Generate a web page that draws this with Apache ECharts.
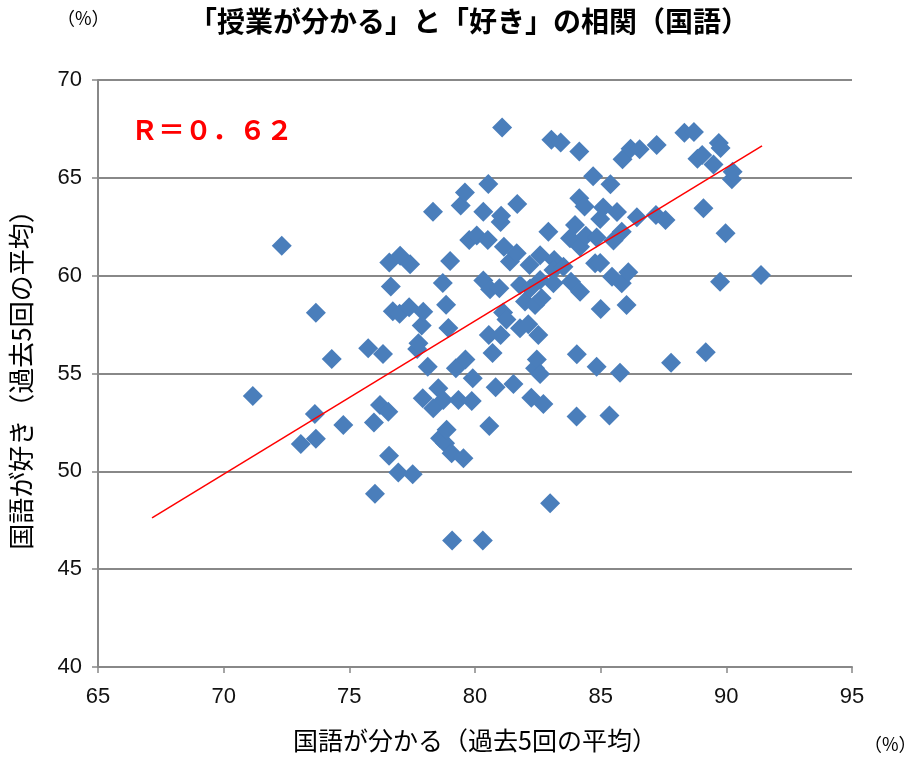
<!DOCTYPE html>
<html>
<head>
<meta charset="utf-8">
<script src="https://cdn.jsdelivr.net/npm/echarts@6/dist/echarts.min.js"></script>
<style>
  html, body { margin: 0; padding: 0; background: #fff; }
  #chart { width: 914px; height: 765px; }
</style>
</head>
<body>
<div id="chart"></div>
<script>
// 各校の「国語が分かる」割合（過去5回の平均, %）
const understandPct = [
  71.16, 72.31, 73.07, 73.63, 73.67, 73.67, 74.30, 74.76, 75.75, 75.98,
  76.02, 76.22, 76.34, 76.55, 76.58, 76.59, 76.65, 76.73, 76.95, 77.00,
  77.02, 77.38, 77.42, 77.52, 77.70, 77.75, 77.88, 77.92, 77.94, 78.12,
  78.33, 78.34, 78.54, 78.61, 78.72, 78.74, 78.81, 78.85, 78.87, 78.94,
  79.01, 79.07, 79.09, 79.24, 79.34, 79.43, 79.54, 79.60, 79.62, 79.77,
  79.87, 79.91, 80.07, 80.31, 80.33, 80.33, 80.51, 80.53, 80.55, 80.57,
  80.60, 80.70, 80.82, 80.97, 81.02, 81.02, 81.04, 81.08, 81.12, 81.15,
  81.25, 81.39, 81.53, 81.66, 81.68, 81.79, 81.79, 81.99, 82.12, 82.17,
  82.19, 82.24, 82.39, 82.39, 82.46, 82.52, 82.59, 82.59, 82.59, 82.65,
  82.72, 82.92, 83.15, 82.99, 83.04, 83.12, 83.12, 83.41, 83.52, 83.78,
  83.82, 83.98, 84.05, 84.04, 84.15, 84.15, 84.18, 84.18, 84.36, 84.41,
  84.70, 84.78, 84.84, 84.84, 84.98, 84.98, 85.00, 85.10, 85.35, 85.39,
  85.45, 85.51, 85.65, 85.77, 85.84, 85.84, 85.87, 86.03, 86.10, 86.19,
  86.44, 86.55, 87.20, 87.23, 87.58, 87.80, 88.33, 88.71, 88.85, 89.04,
  89.09, 89.18, 89.49, 89.70, 89.77, 89.75, 89.97, 90.22, 90.25, 91.38
];

// 各校の「国語が好き」割合（過去5回の平均, %）
const likePct = [
  53.85, 61.53, 51.40, 52.93, 51.66, 58.11, 55.74, 52.37, 56.29, 52.49,
  48.85, 53.39, 56.00, 53.05, 50.80, 60.67, 59.44, 58.18, 49.94, 58.05,
  61.02, 58.38, 60.58, 49.85, 56.25, 56.54, 57.45, 53.73, 58.16, 55.35,
  63.27, 53.22, 54.25, 51.69, 59.62, 53.65, 51.44, 58.52, 52.12, 57.33,
  60.75, 50.93, 46.46, 55.27, 53.65, 63.58, 50.67, 64.25, 55.71, 61.82,
  53.60, 54.76, 62.05, 46.46, 63.27, 59.75, 61.82, 64.69, 56.97, 52.32,
  59.30, 56.05, 54.30, 59.36, 56.97, 62.74, 63.06, 67.57, 58.12, 61.48,
  57.76, 60.72, 54.46, 61.14, 63.66, 59.52, 57.31, 58.68, 57.52, 60.55,
  59.35, 53.76, 58.50, 55.27, 55.72, 56.97, 61.04, 59.78, 54.97, 58.85,
  53.44, 62.25, 60.80, 48.37, 66.95, 60.29, 59.61, 66.80, 60.46, 61.91,
  59.69, 62.59, 55.98, 52.80, 66.35, 63.96, 61.48, 59.18, 63.53, 62.04,
  65.08, 60.63, 61.95, 55.35, 62.90, 60.65, 58.30, 63.48, 52.85, 64.67,
  59.95, 61.80, 63.25, 55.04, 62.25, 59.61, 65.95, 58.50, 60.17, 66.48,
  62.98, 66.46, 63.10, 66.68, 62.85, 55.55, 67.31, 67.34, 65.98, 66.17,
  63.45, 56.08, 65.68, 66.78, 66.52, 59.69, 62.17, 64.93, 65.31, 60.04
];

// 近似直線の両端（x, y）
const trendX = [67.15, 91.42];
const trendY = [47.62, 66.63];

// 相関係数の表示
const corrLabel = 'Ｒ＝０．６２';

// 軸の目盛
const xTicks = [65, 70, 75, 80, 85, 90, 95];
const yTicks = [40, 45, 50, 55, 60, 65, 70];

const points = understandPct.map((x, i) => [x, likePct[i]]);
const trend = trendX.map((x, i) => [x, trendY[i]]);

const numFont = '"Liberation Sans", Arial, sans-serif';
const jpFont = '"Noto Sans CJK JP", sans-serif';
const gridGray = '#888888';

const chart = echarts.init(document.getElementById('chart'), null, { renderer: 'canvas' });

chart.setOption({
  animation: false,
  backgroundColor: '#ffffff',
  title: {
    text: '「授業が分かる」と「好き」の相関（国語）',
    left: 184,
    top: 2,
    textStyle: { fontFamily: jpFont, fontSize: 28, fontWeight: 'bold', color: '#000' }
  },
  graphic: [
    {
      type: 'text', left: 57, top: 9,
      style: { text: '（%）', fontFamily: jpFont, fontSize: 18, fill: '#000' }
    },
    {
      type: 'text', left: 864, top: 735,
      style: { text: '（%）', fontFamily: jpFont, fontSize: 18, fill: '#000' }
    },
    {
      type: 'text', left: 131, top: 116,
      style: { text: corrLabel, fontFamily: jpFont, fontSize: 27, fontWeight: 'bold', fill: '#ff0000' }
    }
  ],
  grid: { left: 98, right: 62, top: 80, bottom: 98, containLabel: false },
  xAxis: {
    type: 'value',
    min: xTicks[0],
    max: xTicks[xTicks.length - 1],
    interval: 5,
    name: '国語が分かる（過去5回の平均）',
    nameLocation: 'middle',
    nameGap: 61,
    nameTextStyle: { fontFamily: jpFont, fontSize: 25, color: '#000' },
    axisLine: { show: true, lineStyle: { color: gridGray, width: 2 } },
    axisTick: { show: true, inside: false, length: 6, lineStyle: { color: gridGray, width: 1.5 } },
    axisLabel: { margin: 19, fontFamily: numFont, fontSize: 22, color: '#111' },
    splitLine: { show: false }
  },
  yAxis: {
    type: 'value',
    min: yTicks[0],
    max: yTicks[yTicks.length - 1],
    interval: 5,
    name: '国語が好き（過去5回の平均）',
    nameLocation: 'middle',
    nameGap: 64,
    nameRotate: 90,
    nameTextStyle: { fontFamily: jpFont, fontSize: 26, color: '#000' },
    axisLine: { show: true, lineStyle: { color: gridGray, width: 2 } },
    axisTick: { show: true, length: 6, lineStyle: { color: gridGray, width: 1.5 } },
    axisLabel: { margin: 16, fontFamily: numFont, fontSize: 22, color: '#111' },
    splitLine: { show: true, lineStyle: { color: gridGray, width: 2 } }
  },
  series: [
    {
      type: 'scatter',
      data: points,
      symbol: 'diamond',
      symbolSize: [20, 20],
      itemStyle: { color: '#4A7EBB', opacity: 1 },
      z: 2
    },
    {
      type: 'line',
      data: trend,
      symbol: 'none',
      lineStyle: { color: '#ff0000', width: 1.5 },
      silent: true,
      z: 3
    }
  ]
});
</script>
</body>
</html>
